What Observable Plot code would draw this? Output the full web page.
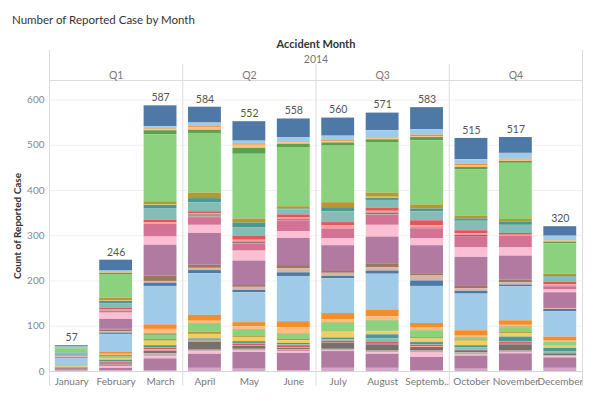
<!DOCTYPE html>
<html><head><meta charset="utf-8">
<script src="https://cdn.jsdelivr.net/npm/d3@7"></script>
<script src="https://cdn.jsdelivr.net/npm/@observablehq/plot@0.6"></script>
<style>
body{margin:0;background:#fff;font-family:Lato,"Open Sans",sans-serif;}
#title{height:32px;box-sizing:border-box;padding:13px 0 0 12px;font-size:11.5px;color:#333;line-height:14px;}
#chart svg{display:block;}
</style></head><body>
<div id="title">Number of Reported Case by Month</div>
<div id="chart"></div>
<script>
const months = ["January","February","March","April","May","June","July","August","September","October","November","December"];
const monthLabels = ["January","February","March","April","May","June","July","August","Septemb..","October","November","December"];
const quarters = ["Q1","Q2","Q3","Q4"];
const year = "2014";
const headerTitle = "Accident Month";
const yTitle = "Count of Reported Case";
const yTicks = [0,100,200,300,400,500,600];
const categories = ["C1","C2","C3","C4","C5","C6","C7","C8","C9","C10","C11","C12","C13","C14","C15","C16","C17","C18","C19","C20",
  "C21","C22","C23","C24","C25","C26","C27","C28","C29","C30","C31","C32","C33","C34","C35","C36","C37","C38"];
const palette = ["#4e79a7","#a0cbe8","#f28e2b","#ffbe7d","#59a14f","#8cd17d","#b6992d","#f1ce63","#499894","#86bcb6",
  "#e15759","#ff9d9a","#79706e","#bab0ac","#d37295","#fabfd2","#b07aa1","#d4a6c8","#9d7660","#d7b5a6"];

// values per month, one per category (top of stack first)
const jan = [3,3,0,0,1,8,0,0,1,6,1,0,0,0,2,1,2,0,0,0,1,15,1,0,0,1,1,2,1,0,0,0,2,0,1,0,3,1];
const feb = [24,3,1,1,4,51,6,1,5,10,3,2,1,1,4,14,22,1,4,3,3,40,4,3,2,3,2,3,3,2,2,1,3,1,2,4,5,2];
const mar = [46,5,2,2,9,148,7,1,7,26,5,4,0,0,28,18,68,0,12,4,7,85,10,10,3,9,4,10,4,2,3,3,6,5,1,5,27,1];
const apr = [35,8,3,5,7,132,12,0,9,20,4,3,3,3,17,18,70,0,7,5,7,92,13,6,1,17,5,10,3,2,1,1,18,2,1,6,31,7];
const may = [43,6,3,7,13,143,9,0,11,18,9,4,3,1,16,22,54,0,4,7,5,66,9,7,1,14,2,9,4,2,3,1,7,3,1,3,37,5];
const jun = [41,11,1,3,7,131,5,0,2,11,7,3,2,1,24,15,60,0,7,9,8,100,13,13,1,12,3,6,3,2,5,1,3,2,2,4,38,2];
const jul = [40,10,2,3,7,125,11,0,9,24,7,7,0,0,22,15,57,0,4,7,5,77,14,7,1,18,1,13,4,3,3,1,14,4,0,1,37,7];
const aug = [39,17,1,2,6,112,9,2,5,17,7,4,3,2,22,26,59,0,9,7,7,79,15,9,1,22,1,7,9,7,5,1,14,4,0,3,31,7];
const sep = [49,12,3,2,7,142,9,0,6,20,11,5,2,0,22,15,62,0,5,11,12,82,10,5,1,15,3,8,5,1,3,2,8,3,1,10,29,2];
const oct = [47,10,3,4,5,103,6,0,5,21,7,3,3,0,25,21,64,0,5,6,6,81,12,3,1,4,3,10,5,4,1,1,5,5,0,2,29,5];
const nov = [35,13,2,3,4,124,6,0,7,18,4,2,0,0,26,18,53,0,6,5,4,75,10,4,1,11,3,7,10,2,4,1,14,3,0,3,38,1];
const dec = [21,10,1,2,4,67,3,0,2,13,5,4,1,0,7,6,33,0,2,2,5,56,9,3,0,7,1,5,8,3,1,0,4,2,0,3,23,7];
const series = [jan,feb,mar,apr,may,jun,jul,aug,sep,oct,nov,dec];

const table = months.flatMap((m, mi) => series[mi].map((v, ci) => ({month: m, mi, cat: categories[ci], value: v})));
const monthIdx = months.map((m, i) => i);
const edges = [-0.5, months.length - 0.5];
const qBounds = quarters.slice(1).map((q, i) => (i + 1) * 3 - 0.5);
const qCenters = quarters.map((q, i) => i * 3 + 1);

const chart = Plot.plot({
  width: 600, height: 378,
  marginTop: 48, marginLeft: 49, marginRight: 18, marginBottom: 39,
  style: {fontFamily: "Lato, 'Open Sans', sans-serif", fontSize: "10px", background: "#fff", overflow: "visible"},
  x: {domain: edges, axis: null},
  y: {domain: [0, 643], axis: null},
  color: {domain: categories, range: categories.map((c, i) => palette[i % palette.length])},
  marks: [
    Plot.gridY(yTicks, {stroke: "#f0f0f0", strokeOpacity: 1}),
    Plot.axisY(yTicks, {tickSize: 0, tickPadding: 5, label: null, fill: "#888"}),
    Plot.axisX(monthIdx, {tickFormat: i => monthLabels[i], tickSize: 0, tickPadding: 6, label: null, fill: "#777"}),
    Plot.rectY(table, {x1: d => d.mi - 0.37, x2: d => d.mi + 0.37, y: "value", fill: "cat", reverse: true}),
    Plot.text(table, Plot.groupX({y: "sum", text: "sum"}, {x: "mi", y: "value", text: "value", dy: -8, fill: "#555", fontSize: 10.5})),
    Plot.ruleY([0], {stroke: "#d4d4d4"}),
    Plot.frame({anchor: "top", stroke: "#dcdcdc"}),
    Plot.ruleX(edges, {stroke: "#dcdcdc", insetTop: -30, insetBottom: -15}),
    Plot.ruleX(qBounds, {stroke: "#dcdcdc", insetTop: -16, insetBottom: -15}),
    Plot.text(quarters, {x: (q, i) => qCenters[i], frameAnchor: "top", dy: -9, text: d => d, fill: "#777", fontSize: 10.5}),
    Plot.text([year], {frameAnchor: "top", dy: -25, text: d => d, fill: "#777", fontSize: 10.5}),
    Plot.text([headerTitle], {frameAnchor: "top", dy: -40, text: d => d, fill: "#333", fontWeight: "bold", fontSize: 11}),
    Plot.text([yTitle], {frameAnchor: "left", textAnchor: "middle", rotate: -90, dx: -32, text: d => d, fill: "#333", fontWeight: "bold", fontSize: 10})
  ]
});
document.getElementById("chart").appendChild(chart);
</script>
</body></html>
